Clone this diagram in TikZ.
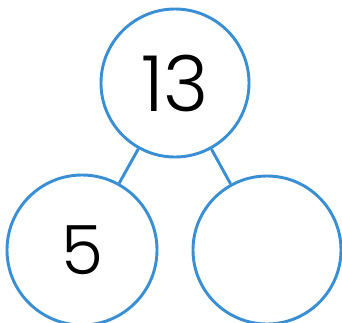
\documentclass[tikz,border=0pt]{standalone}
\usepackage{fontspec}
\setmainfont{Poppins}[UprightFont=* Light]
\usepackage{tikz}
\usetikzlibrary{positioning}
\definecolor{ringblue}{RGB}{58,142,212}

\begin{document}
\begin{tikzpicture}[x=0.03cm,y=0.03cm,
  ring/.style={circle,draw=ringblue,line width=2.5pt,fill=white,inner sep=0pt},
  link/.style={draw=ringblue,line width=2.5pt}]
  \useasboundingbox (0,0) rectangle (342,322);
  \node[ring,minimum size=4.44cm,font=\fontsize{66}{66}\selectfont] (whole) at (175,239) {13};
  \node[ring,minimum size=4.5cm,font=\fontsize{58}{58}\selectfont] (partA) at (82,72) {5};
  \node[ring,minimum size=4.44cm] (partB) at (267,72) {};
  \draw[link] (whole) -- (partA); \draw[link] (whole) -- (partB);
\end{tikzpicture}
\end{document}
